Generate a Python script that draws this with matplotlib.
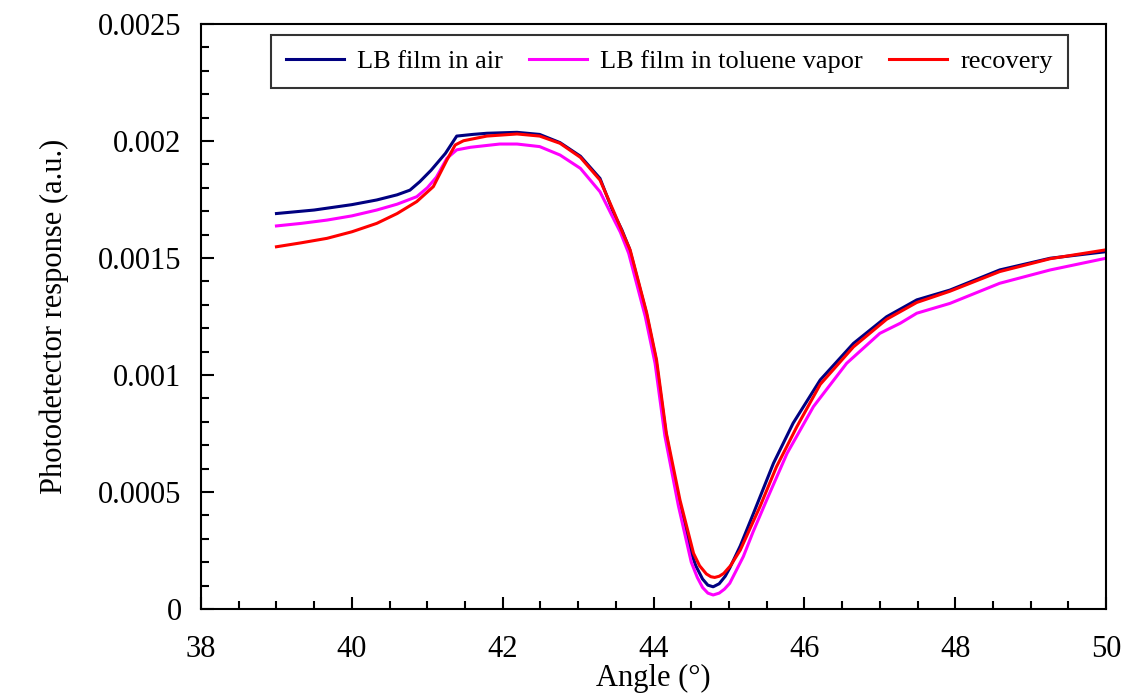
import numpy as np
import matplotlib.pyplot as plt
from matplotlib.ticker import MultipleLocator, FuncFormatter

# Angle (deg) and photodetector response (units of 1e-3 a.u.)
air_x = [39.0, 39.5, 40.0, 40.33, 40.6, 40.77, 40.9, 41.05, 41.24, 41.39, 41.6, 41.79,
         42.19, 42.49, 42.76, 43.03, 43.29, 43.46, 43.58, 43.68, 43.9, 44.03, 44.16,
         44.32, 44.48, 44.56, 44.65, 44.72, 44.79, 44.87, 44.95, 45.01, 45.15, 45.32,
         45.59, 45.85, 46.21, 46.65, 47.09, 47.49, 47.93, 48.59, 49.26, 50.0]
air_y = [1.690, 1.705, 1.728, 1.748, 1.770, 1.790, 1.826, 1.875, 1.947, 2.021, 2.028, 2.033,
         2.037, 2.028, 1.993, 1.935, 1.840, 1.700, 1.620, 1.540, 1.270, 1.070, 0.760,
         0.480, 0.260, 0.185, 0.128, 0.102, 0.095, 0.108, 0.140, 0.175, 0.270, 0.405,
         0.623, 0.794, 0.979, 1.135, 1.249, 1.321, 1.363, 1.449, 1.499, 1.527]

tol_x = [39.0, 39.33, 39.67, 40.0, 40.33, 40.6, 40.86, 41.0, 41.12, 41.26, 41.39, 41.57,
         41.96, 42.19, 42.49, 42.76, 43.03, 43.29, 43.45, 43.56, 43.67, 43.89, 44.02,
         44.15, 44.33, 44.5, 44.58, 44.65, 44.72, 44.79, 44.87, 44.94, 45.01, 45.19,
         45.32, 45.5, 45.77, 46.12, 46.56, 47.0, 47.27, 47.49, 47.93, 48.59, 49.26, 50.0]
tol_y = [1.637, 1.648, 1.662, 1.680, 1.705, 1.730, 1.762, 1.800, 1.845, 1.926, 1.962, 1.973,
         1.987, 1.987, 1.976, 1.940, 1.883, 1.783, 1.680, 1.610, 1.520, 1.250, 1.050,
         0.740, 0.440, 0.200, 0.135, 0.092, 0.068, 0.060, 0.068, 0.085, 0.110, 0.224,
         0.330, 0.466, 0.665, 0.865, 1.050, 1.178, 1.221, 1.264, 1.306, 1.392, 1.449, 1.499]

rec_x = [39.0, 39.33, 39.67, 40.0, 40.33, 40.6, 40.86, 41.08, 41.26, 41.37, 41.48, 41.79,
         42.19, 42.49, 42.76, 43.03, 43.29, 43.47, 43.6, 43.69, 43.91, 44.04, 44.17,
         44.35, 44.53, 44.61, 44.7, 44.76, 44.81, 44.87, 44.93, 45.02, 45.15, 45.41,
         45.63, 45.9, 46.21, 46.65, 47.09, 47.49, 47.93, 48.59, 49.26, 50.0]
rec_y = [1.548, 1.565, 1.584, 1.612, 1.648, 1.690, 1.741, 1.805, 1.919, 1.983, 2.001, 2.021,
         2.030, 2.021, 1.990, 1.930, 1.833, 1.700, 1.600, 1.534, 1.264, 1.064, 0.751,
         0.466, 0.238, 0.185, 0.150, 0.138, 0.135, 0.140, 0.152, 0.185, 0.252, 0.437,
         0.608, 0.779, 0.960, 1.120, 1.238, 1.310, 1.358, 1.442, 1.497, 1.535]

plt.rcParams['font.family'] = 'Liberation Serif'

fig = plt.figure(figsize=(11.32, 6.95), dpi=100)
ax = fig.add_axes([0.1776, 0.1237, 0.7995, 0.8418])

ax.plot(air_x, np.array(air_y) * 1e-3, color='#000080', lw=2.2, label='LB film in air')
ax.plot(tol_x, np.array(tol_y) * 1e-3, color='#FF00FF', lw=2.2, label='LB film in toluene vapor')
ax.plot(rec_x, np.array(rec_y) * 1e-3, color='#FF0000', lw=2.2, label='recovery')

ax.set_xlim(38, 50)
ax.set_ylim(0, 0.0025)
ax.xaxis.set_major_locator(MultipleLocator(2))
ax.xaxis.set_minor_locator(MultipleLocator(0.5))
ax.yaxis.set_major_locator(MultipleLocator(0.0005))
ax.yaxis.set_minor_locator(MultipleLocator(0.0001))
ax.yaxis.set_major_formatter(FuncFormatter(lambda v, p: '0' if abs(v) < 1e-12 else ('%.4f' % v).rstrip('0')))

ax.tick_params(which='both', direction='in', top=False, right=False, width=1.5, labelsize=22)
ax.tick_params(which='major', length=9)
ax.tick_params(which='minor', length=6)
ax.tick_params(axis='x', pad=19)
ax.tick_params(axis='y', pad=14)
for s in ax.spines.values():
    s.set_linewidth(1.5)

ax.set_xlabel('Angle (°)', fontsize=22, labelpad=0)
ax.set_ylabel('Photodetector response (a.u.)', fontsize=22, labelpad=21)

leg = ax.legend(ncol=3, loc='upper left', bbox_to_anchor=(0.0773, 0.981), borderaxespad=0,
                fontsize=19, frameon=True, fancybox=False, edgecolor='black',
                handlelength=2.2, handletextpad=0.5, columnspacing=1.0, borderpad=0.55)
leg.get_frame().set_linewidth(1.5)

fig.savefig('out.png', dpi=100)
